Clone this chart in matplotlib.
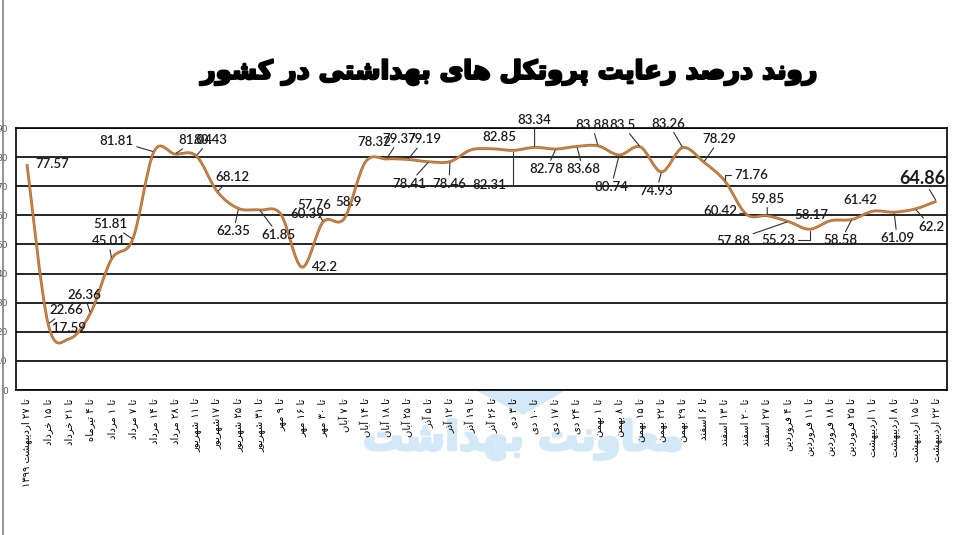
import re
import numpy as np
import matplotlib
matplotlib.use('Agg')
import matplotlib.pyplot as plt
import matplotlib.patheffects as pe
from matplotlib.path import Path
from matplotlib.patches import PathPatch, Polygon
from matplotlib.lines import Line2D

title = 'روند درصد رعایت پروتکل های بهداشتی در کشور'
watermark = 'معاونت بهداشت'

dates = ['تا ۲۷ اردیبهشت ۱۳۹۹', 'تا ۱۵ خرداد', 'تا ۲۱ خرداد', 'تا ۴ تیرماه',
         'تا ۱ مرداد', 'تا ۷ مرداد', 'تا ۱۴ مرداد', 'تا ۲۸ مرداد',
         'تا ۱۱ شهریور', 'تا ۱۷شهریور', 'تا ۲۵ شهریور', 'تا ۳۱ شهریور',
         'تا ۹ مهر', 'تا ۱۶ مهر', 'تا ۳۰ مهر', 'تا ۷ آبان', 'تا ۱۴ آبان',
         'تا ۱۸ آبان', 'تا ۲۵ آبان', 'تا ۵ آذر', 'تا ۱۲ آذر', 'تا ۱۹ آذر',
         'تا ۲۶ آذر', 'تا ۳ دی', 'تا ۱۰ دی', 'تا ۱۷ دی', 'تا ۲۴ دی',
         'تا ۱ بهمن', 'تا ۸ بهمن', 'تا ۱۵ بهمن', 'تا ۲۲ بهمن', 'تا ۲۹ بهمن',
         'تا ۶ اسفند', 'تا ۱۳ اسفند', 'تا ۲۰ اسفند', 'تا ۲۷ اسفند',
         'تا ۴ فروردین', 'تا ۱۱ فروردین', 'تا ۱۸ فروردین', 'تا ۲۵ فروردین',
         'تا ۱ اردیبهشت', 'تا ۸ اردیبهشت', 'تا ۱۵ اردیبهشت', 'تا ۲۲ اردیبهشت']

compliance = [77.57, 22.66, 17.59, 26.36, 45.01, 51.81, 81.81, 81.04, 80.43, 68.12,
              62.35, 61.85, 60.39, 42.2, 57.76, 58.9, 78.32, 79.37, 79.19, 78.41,
              78.46, 82.5, 82.85, 82.31, 83.34, 82.78, 83.68, 83.88, 80.74, 83.5,
              74.93, 83.26, 78.29, 71.76, 60.42, 59.85, 57.88, 55.23, 58.17, 58.58,
              61.42, 61.09, 62.2, 64.86]
unlabeled = [21]

# label offsets in pixels (dx right, dy down) and leader type 0 none / 1 line / 2 elbow
offsets = [(25, 0), (18, -14), (0, -11), (-6, -18), (-3, -18), (-22, -15), (-37, -11),
           (20, -14), (14, -16), (15, -15), (-5, 23), (19, 25), (27, 0), (23, 0),
           (-9, -17), (4, -17), (9, -20), (13, -20), (17, -20), (-20, 22), (-1, 22),
           (0, 0), (7, -12), (-24, 35), (0, -27), (-9, 20), (6, 23), (-6, -21),
           (-8, 32), (-18, -22), (-5, 19), (-14, -24), (16, -23), (26, -6), (-26, -3),
           (0, -17), (-55, 19), (-31, 11), (-19, -6), (-11, 21), (-13, -11), (3, 26),
           (16, 18), (-14, -23)]
leader = [0, 1, 0, 1, 1, 1, 1, 1, 1, 1, 1, 1, 0, 0, 1, 0, 0, 1, 1, 1, 1, 0, 0, 2,
          1, 1, 1, 1, 1, 1, 1, 1, 1, 2, 1, 1, 1, 2, 0, 1, 0, 1, 1, 1]

# --- tiny persian shaper (matplotlib has no arabic shaping) ---
FORMS = {
    '\u0627': ('\ufe8d', '\ufe8e', None, None),
    '\u0622': ('\ufe81', '\ufe82', None, None),
    '\u0628': ('\ufe8f', '\ufe90', '\ufe91', '\ufe92'),
    '\u067e': ('\ufb56', '\ufb57', '\ufb58', '\ufb59'),
    '\u062a': ('\ufe95', '\ufe96', '\ufe97', '\ufe98'),
    '\u062e': ('\ufea5', '\ufea6', '\ufea7', '\ufea8'),
    '\u062f': ('\ufea9', '\ufeaa', None, None),
    '\u0630': ('\ufeab', '\ufeac', None, None),
    '\u0631': ('\ufead', '\ufeae', None, None),
    '\u0632': ('\ufeaf', '\ufeb0', None, None),
    '\u0633': ('\ufeb1', '\ufeb2', '\ufeb3', '\ufeb4'),
    '\u0634': ('\ufeb5', '\ufeb6', '\ufeb7', '\ufeb8'),
    '\u0635': ('\ufeb9', '\ufeba', '\ufebb', '\ufebc'),
    '\u0639': ('\ufec9', '\ufeca', '\ufecb', '\ufecc'),
    '\u0641': ('\ufed1', '\ufed2', '\ufed3', '\ufed4'),
    '\u06a9': ('\ufb8e', '\ufb8f', '\ufb90', '\ufb91'),
    '\u0644': ('\ufedd', '\ufede', '\ufedf', '\ufee0'),
    '\u0645': ('\ufee1', '\ufee2', '\ufee3', '\ufee4'),
    '\u0646': ('\ufee5', '\ufee6', '\ufee7', '\ufee8'),
    '\u0647': ('\ufee9', '\ufeea', '\ufeeb', '\ufeec'),
    '\u0648': ('\ufeed', '\ufeee', None, None),
    '\u06cc': ('\ufbfc', '\ufbfd', '\ufbfe', '\ufbff'),
}


def shape(s):
    s = s.replace('\u064a', '\u06cc').replace('\u0643', '\u06a9').replace('\u0627\u0653', '\u0622')
    out = []
    for i, c in enumerate(s):
        if c not in FORMS:
            out.append(c)
            continue
        f = FORMS[c]
        prev = s[i - 1] if i > 0 else ''
        nxt = s[i + 1] if i + 1 < len(s) else ''
        jp = prev in FORMS and FORMS[prev][2] is not None
        jn = nxt in FORMS and f[2] is not None
        if jp and jn:
            out.append(f[3])
        elif jp:
            out.append(f[1])
        elif jn:
            out.append(f[2])
        else:
            out.append(f[0])
    return ''.join(out)


def rtl(s):
    s = shape(s)
    runs = re.findall(r'[0-9\u06f0-\u06f9]+|[^0-9\u06f0-\u06f9]+', s)
    return ''.join(r if r[0] in '0123456789\u06f0\u06f1\u06f2\u06f3\u06f4\u06f5\u06f6\u06f7\u06f8\u06f9'
                   else r[::-1] for r in reversed(runs))


W, H = 961, 535
fig = plt.figure(figsize=(W / 100, H / 100), dpi=100)
ax = fig.add_axes([16 / W, 1 - 390 / H, (947 - 16) / W, (390 - 128) / H])

x = np.arange(len(compliance))
y = np.array(compliance)

# smoothed line like excel (catmull-rom bezier through the points)
verts = [(x[0], y[0])]
codes = [Path.MOVETO]
for i in range(len(x) - 1):
    p0 = np.array([x[max(i - 1, 0)], y[max(i - 1, 0)]])
    p1 = np.array([x[i], y[i]])
    p2 = np.array([x[i + 1], y[i + 1]])
    p3 = np.array([x[min(i + 2, len(x) - 1)], y[min(i + 2, len(x) - 1)]])
    c1 = p1 + (p2 - p0) / 6
    c2 = p2 - (p3 - p1) / 6
    verts += [tuple(c1), tuple(c2), tuple(p2)]
    codes += [Path.CURVE4] * 3
ax.add_patch(PathPatch(Path(verts, codes), facecolor='none', edgecolor='#b06a2e', lw=2.0, zorder=3))
ax.add_patch(PathPatch(Path(verts, codes), facecolor='none', edgecolor='#cc8b50', lw=0.8, zorder=4))

ax.set_xlim(-0.52, len(x) - 0.5)
ax.set_ylim(0, 90)
ax.set_yticks(range(0, 91, 10))
ax.set_yticklabels([str(v) for v in range(0, 91, 10)], fontsize=6.5, color='#555555')
ax.set_xticks(x)
ax.set_xticklabels([rtl(d) for d in dates], rotation=90, fontsize=7.2,
                   family='DejaVu Sans', ha='center', va='top')
ax.tick_params(axis='both', length=0)
ax.tick_params(axis='y', pad=6)
ax.tick_params(axis='x', pad=6)
ax.yaxis.grid(True, color='black', lw=1.2)
ax.set_axisbelow(True)
for sp in ax.spines.values():
    sp.set_color('black')
    sp.set_linewidth(1.2)

for i, v in enumerate(compliance):
    if i in unlabeled:
        continue
    dx, dy = offsets[i]
    big = i == len(compliance) - 1
    props = None
    if leader[i] == 1:
        props = dict(arrowstyle='-', color='#303030', lw=0.8, shrinkA=0, shrinkB=1)
    elif leader[i] == 2:
        props = dict(arrowstyle='-', color='#303030', lw=0.8, shrinkA=0, shrinkB=1,
                     connectionstyle='angle,angleA=0,angleB=90,rad=0')
    ax.annotate('{:g}'.format(v), xy=(i, v), xytext=(dx, -dy), textcoords='offset pixels',
                ha='center', va='center', fontsize=13 if big else 9.5,
                fontweight='bold' if big else 'semibold', color='#1a1a1a',
                family=['Lato', 'DejaVu Sans'], arrowprops=props, zorder=5)

fig.text(510 / W, 1 - 72 / H, rtl(title), fontsize=18.5, fontweight='bold',
         ha='center', va='center', family='DejaVu Sans',
         path_effects=[pe.withStroke(linewidth=1.6, foreground='black')])

# watermark behind the tick labels
fig.text(523 / W, 1 - 440 / H, rtl(watermark), fontsize=29, fontweight='bold',
         color='#d3e9f8', ha='center', va='center', family='DejaVu Sans', zorder=-2,
         path_effects=[pe.withStroke(linewidth=2, foreground='#d3e9f8')])
logo = [(478, 391), (563, 391), (523, 414)]
fig.add_artist(Polygon([(px / W, 1 - py / H) for px, py in logo], closed=True,
                       transform=fig.transFigure, color='#d3e9f8', zorder=-2))
fig.add_artist(Line2D([3 / W, 3 / W], [0, 1], transform=fig.transFigure,
                      color='#808080', lw=1.2))

fig.savefig('out.png', dpi=100, facecolor='white')
